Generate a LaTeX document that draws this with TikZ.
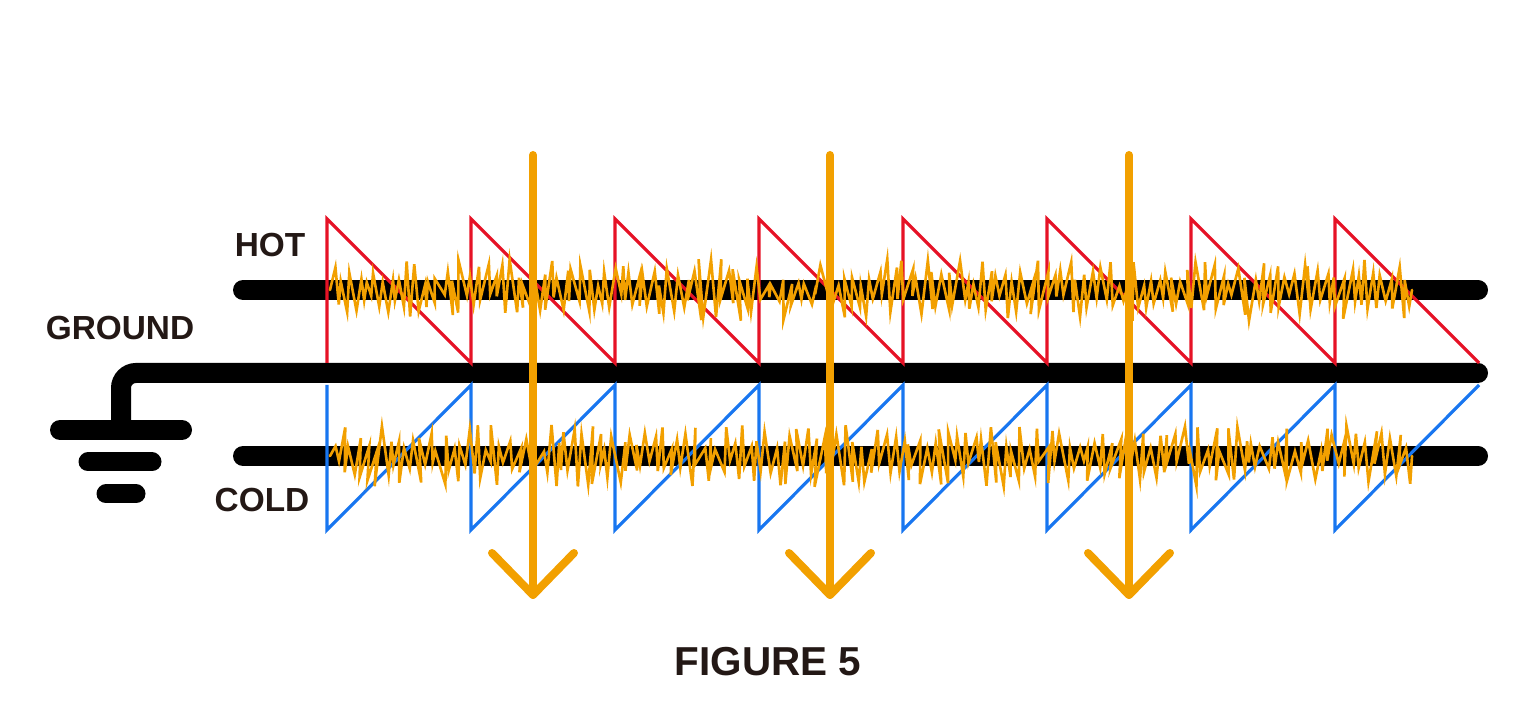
\documentclass[tikz,border=0pt]{standalone}
\usepackage{fontspec}
\setmainfont{Liberation Sans}
\usepackage{tikz}
\usetikzlibrary{calc}
\definecolor{hotred}{RGB}{230,18,38}
\definecolor{coldblue}{RGB}{24,118,240}
\definecolor{noiseorange}{RGB}{242,160,0}
\definecolor{inkblack}{RGB}{35,24,21}

\begin{document}
\begin{tikzpicture}[line cap=round,
    wire/.style={line width=0.2cm,black},
    saw/.style={line width=0.9pt,line cap=butt,line join=miter},
    noise/.style={noiseorange,line width=0.75pt,line join=miter},
    pulse/.style={noiseorange,line width=0.08cm,line join=round},
    label/.style={font=\bfseries\fontsize{9.5}{11}\selectfont,text=inkblack}]
  \useasboundingbox (0,0) rectangle (15.36,7.28);

  % wires
  \coordinate (hotL)  at (2.43,4.38);
  \coordinate (hotR)  at (14.78,4.38);
  \coordinate (coldL) at (2.43,2.72);
  \coordinate (coldR) at (14.78,2.72);
  \coordinate (gndR)  at (14.78,3.55);
  \coordinate (gndC)  at (1.21,3.55);
  \coordinate (gndF)  at (1.21,2.98);
  \draw[wire] (hotL) -- (hotR);
  \draw[wire] (coldL) -- (coldR);
  \draw[wire,rounded corners=0.15cm] (gndR) -- (gndC) -- (gndF);

  % ground symbol
  \draw[wire] (0.60,2.98) -- (1.82,2.98);
  \draw[wire,line width=0.19cm] (0.88,2.66) -- (1.52,2.66);
  \draw[wire,line width=0.19cm] (1.06,2.34) -- (1.36,2.34);

  % signal sawtooth
  \draw[saw,hotred] (3.27,3.65) foreach \k in {0,...,7} {
    -- ({3.27+1.44*\k},5.09) -- ({3.27+1.44*(\k+1)},3.65) };
  \draw[saw,coldblue] (3.27,3.43) foreach \k in {0,...,7} {
    -- ({3.27+1.44*\k},1.98) -- ({3.27+1.44*(\k+1)},3.43) };

  % noise
  \pgfmathsetseed{11}
  \foreach \y in {4.38,2.72}
    \draw[noise] (3.30,\y) foreach \n in {1,...,270} {
      -- ({3.30+0.04*\n+0.035*rand},{\y+(2*mod(\n,2)-1)*(0.04+0.27*rnd)}) }
      -- (14.12,\y);

  % induced noise arrows
  \foreach \i/\x in {1/5.33,2/8.30,3/11.29} {
    \coordinate (top\i) at (\x,5.73);
    \coordinate (tip\i) at (\x,1.33);
    \draw[pulse] (top\i) -- (tip\i);
    \draw[pulse] ($(tip\i)+(-0.41,0.42)$) -- (tip\i) -- ($(tip\i)+(0.41,0.42)$);
  }

  % labels
  \node[label] (hot)  at (2.70,4.83) {HOT};
  \node[label] (gnd)  at (1.20,4.00) {GROUND};
  \node[label] (cold) at (2.62,2.28) {COLD};
  \node[label,font=\bfseries\fontsize{11.5}{13}\selectfont] (fig) at (7.68,0.66) {FIGURE 5};
\end{tikzpicture}
\end{document}
